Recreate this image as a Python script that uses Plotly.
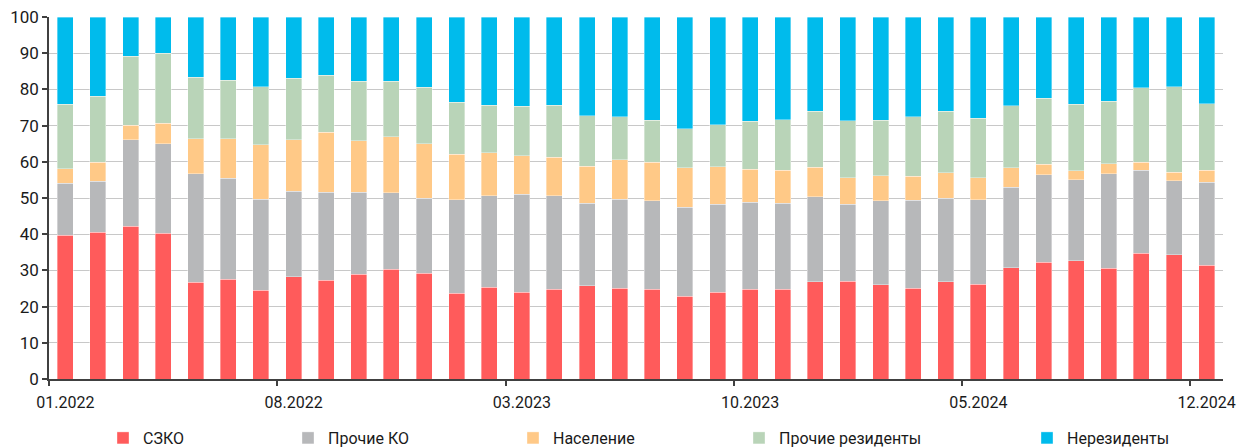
import plotly.graph_objects as go

months = [f"{m:02d}.{y}" for y in (2022, 2023, 2024) for m in range(1, 13)]
tick_labels = ["01.2022", "08.2022", "03.2023", "10.2023", "05.2024", "12.2024"]

szko = [39.7, 40.5, 42.2, 40.2, 26.7, 27.5, 24.5, 28.2, 27.3, 29.0, 30.3, 29.2,
        23.7, 25.4, 24.0, 24.8, 25.7, 25.1, 24.8, 22.9, 24.0, 24.8, 24.8, 26.8,
        27.0, 26.0, 25.1, 26.8, 26.2, 30.7, 32.2, 32.6, 30.6, 34.8, 34.3, 31.4]
other_ko = [14.4, 14.1, 23.9, 24.8, 30.0, 27.9, 25.1, 23.6, 24.3, 22.6, 21.1, 20.7,
            25.8, 25.2, 27.0, 25.8, 22.9, 24.6, 24.4, 24.5, 24.3, 24.0, 23.7, 23.6,
            21.3, 23.2, 24.3, 23.1, 23.3, 22.3, 24.2, 22.4, 26.1, 22.9, 20.4, 23.0]
households = [4.0, 5.3, 4.0, 5.7, 9.7, 11.0, 15.1, 14.3, 16.5, 14.2, 15.5, 15.1,
              12.6, 11.9, 10.7, 10.6, 10.2, 10.9, 10.7, 10.9, 10.3, 9.1, 9.1, 8.1,
              7.3, 7.0, 6.6, 7.1, 6.1, 5.4, 2.9, 2.5, 2.8, 2.2, 2.4, 3.2]
other_res = [17.8, 18.2, 19.1, 19.3, 16.9, 16.1, 16.0, 17.0, 15.8, 16.4, 15.3, 15.6,
             14.3, 13.1, 13.6, 14.4, 13.9, 11.8, 11.6, 10.9, 11.6, 13.3, 14.0, 15.4,
             15.7, 15.3, 16.5, 16.9, 16.4, 17.1, 18.2, 18.4, 17.2, 20.6, 23.7, 18.4]
nonres = [24.1, 21.9, 10.8, 10.0, 16.7, 17.5, 19.3, 16.9, 16.1, 17.8, 17.8, 19.4,
          23.6, 24.4, 24.7, 24.4, 27.3, 27.6, 28.5, 30.8, 29.8, 28.8, 28.4, 26.1,
          28.7, 28.5, 27.5, 26.1, 28.0, 24.5, 22.5, 24.1, 23.3, 19.5, 19.2, 24.0]

series = [
    ("СЗКО", szko, "#ff5b5b"),
    ("Прочие КО", other_ko, "#b7b8ba"),
    ("Население", households, "#ffc987"),
    ("Прочие резиденты", other_res, "#b9d4b8"),
    ("Нерезиденты", nonres, "#00bbec"),
]
# legend left edges in pixels
legend_px = [103, 288, 513, 739, 1027]

FONT = "Roboto, Open Sans, sans-serif"
L, R, T, B = 49, 19, 17, 68
W, H = 1242, 447
plot_h = H - T - B
plot_w = W - L - R

fig = go.Figure()
for i, (name, vals, color) in enumerate(series):
    fig.add_trace(
        go.Bar(
            x=list(range(len(months))),
            y=vals,
            name=name,
            marker=dict(color=color, line=dict(color="rgba(255,255,255,0.6)", width=0.6)),
            legend="legend" if i == 0 else f"legend{i + 1}",
            hovertext=months,
        )
    )

# helper trace so the tick-mark axis gets drawn
fig.add_trace(go.Scatter(x=[None], y=[None], xaxis="x2", showlegend=False, hoverinfo="skip"))

label_idx = [months.index(t) for t in tick_labels]

fig.update_layout(
    width=W,
    height=H,
    margin=dict(l=L, r=R, t=T, b=B, autoexpand=False),
    barmode="stack",
    bargap=0.51,
    plot_bgcolor="white",
    paper_bgcolor="white",
    font=dict(family=FONT, size=16, color="#1a1a1a"),
    xaxis=dict(
        range=[-0.5, len(months) - 0.5],
        tickvals=label_idx,
        ticktext=tick_labels,
        ticks="",
        ticklabelstandoff=8,
        showgrid=False,
        showline=True,
        linecolor="#404040",
        linewidth=1.5,
        zeroline=False,
        tickfont=dict(size=16),
        automargin=False,
    ),
    xaxis2=dict(
        overlaying="x",
        anchor="y",
        side="bottom",
        range=[-0.5, len(months) - 0.5],
        tickvals=[i - 0.5 for i in label_idx],
        showticklabels=False,
        ticks="outside",
        ticklen=6,
        tickwidth=1.5,
        tickcolor="#404040",
        showgrid=False,
        zeroline=False,
    ),
    yaxis=dict(
        range=[0, 100],
        tickvals=list(range(0, 101, 10)),
        ticks="outside",
        ticklen=5,
        tickwidth=1.5,
        tickcolor="#404040",
        showline=True,
        linecolor="#404040",
        linewidth=1.5,
        gridcolor="#c8c8c8",
        gridwidth=1.3,
        zeroline=False,
        tickfont=dict(size=17),
        automargin=False,
    ),
)

for i, px in enumerate(legend_px):
    key = "legend" if i == 0 else f"legend{i + 1}"
    fig.update_layout(
        {
            key: dict(
                x=(px - L) / plot_w,
                y=(T + plot_h - 438) / plot_h,
                xanchor="left",
                yanchor="middle",
                orientation="h",
                bgcolor="rgba(0,0,0,0)",
                font=dict(family=FONT, size=16, color="#1a1a1a"),
            )
        }
    )

# the page body has an 8px default margin; drop it so the figure sits at 0,0
fig.write_html(
    "out.html",
    config={"displayModeBar": False},
    post_script="document.body.style.margin='0';",
)
